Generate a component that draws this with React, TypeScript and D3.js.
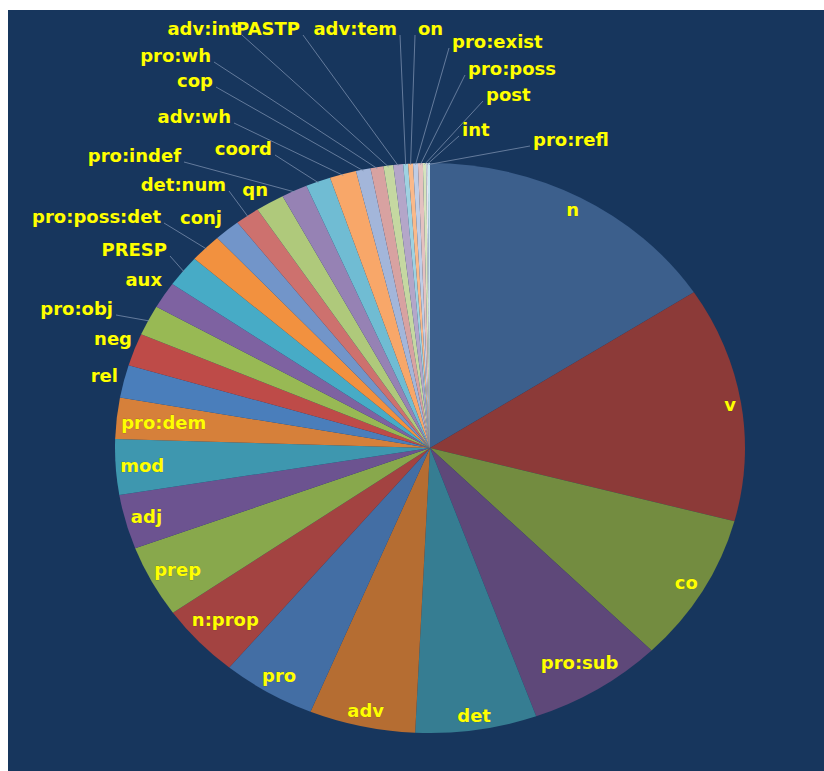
import React from "react";
import * as d3 from "d3";

// ---- data (share of each part-of-speech tag) ----
const categories = [
  "n", "v", "co", "pro:sub", "det", "adv", "pro", "n:prop", "prep", "adj", "mod", "pro:dem",
  "rel", "neg", "pro:obj", "aux", "PRESP", "pro:poss:det", "conj", "det:num", "qn", "pro:indef",
  "coord", "adv:wh", "cop", "pro:wh", "adv:int", "PASTP", "adv:tem", "on", "pro:exist",
  "pro:poss", "post", "int", "pro:refl",
];
const values = [
  56.9, 48.0, 30.4, 25.0, 22.4, 19.6, 17.3, 15.1, 14.7, 11.1, 11.3, 8.4,
  6.7, 6.6, 6.2, 5.4, 6.5, 5.9, 4.8, 4.5, 5.3, 4.8,
  4.6, 4.9, 2.7, 2.4, 1.8, 1.8, 0.9, 0.9, 0.9,
  0.9, 0.6, 0.3, 0.4,
];
const colors = [
  "#3c5f8c", "#8c3a38", "#738c40", "#5e4879", "#367d92", "#b56d32",
  "#436ea4", "#a34341", "#88a84c", "#6c5390", "#3e97af", "#d6803a",
  "#4a7ebb", "#be4b48", "#98b954", "#7e62a1", "#47abc6", "#f2913f",
  "#7295c9", "#cd716e", "#afc97b", "#9682b4", "#70bcd3", "#f8a769",
  "#a3b6da", "#d8a2a1", "#c5d8a1", "#b4a6c9", "#9fd2e1", "#fab98a",
  "#bfcde6", "#e4c1c0", "#d7e4bd", "#e6e3ee", "#c8e6ef",
];
const insideCount = 12;

// ---- layout for labels placed outside the pie (manual, as in the original) ----
type OL = { x: number; y: number; anchor: "start" | "end"; line: boolean };
const outsideLayout: Record<string, OL> = {
  rel: { x: 118, y: 376, anchor: "end", line: false },
  neg: { x: 132, y: 339, anchor: "end", line: false },
  "pro:obj": { x: 113, y: 309, anchor: "end", line: true },
  aux: { x: 162, y: 280, anchor: "end", line: false },
  PRESP: { x: 167, y: 250, anchor: "end", line: true },
  "pro:poss:det": { x: 161, y: 217, anchor: "end", line: true },
  conj: { x: 222, y: 218, anchor: "end", line: false },
  "det:num": { x: 226, y: 185, anchor: "end", line: true },
  qn: { x: 268, y: 190, anchor: "end", line: false },
  "pro:indef": { x: 181, y: 156, anchor: "end", line: true },
  coord: { x: 272, y: 149, anchor: "end", line: true },
  "adv:wh": { x: 231, y: 117, anchor: "end", line: true },
  cop: { x: 213, y: 81, anchor: "end", line: true },
  "pro:wh": { x: 211, y: 56, anchor: "end", line: true },
  "adv:int": { x: 239, y: 29, anchor: "end", line: true },
  PASTP: { x: 300, y: 29, anchor: "end", line: true },
  "adv:tem": { x: 397, y: 29, anchor: "end", line: true },
  on: { x: 418, y: 29, anchor: "start", line: true },
  "pro:exist": { x: 452, y: 42, anchor: "start", line: true },
  "pro:poss": { x: 468, y: 69, anchor: "start", line: true },
  post: { x: 486, y: 95, anchor: "start", line: true },
  int: { x: 462, y: 130, anchor: "start", line: true },
  "pro:refl": { x: 533, y: 140, anchor: "start", line: true },
};

const W = 824;
const H = 771;
const CX = 430;
const CY = 448;
const RX = 315;
const RY = 285;
const FONT = "DejaVu Sans, Verdana, sans-serif";
const FS = 18;
const LABEL_H = 17;
const PAD = 4;

function textWidth(t: string): number {
  if (typeof document === "undefined") return t.length * FS * 0.6;
  const c = document.createElement("canvas").getContext("2d");
  if (!c) return t.length * FS * 0.6;
  c.font = `bold ${FS}px ${FONT}`;
  return c.measureText(t).width;
}

export default function App() {
  const pie = d3
    .pie<number>()
    .sort(null)
    .value((d) => d)
    .startAngle(0)
    .endAngle(Math.PI * 2);
  const arcs = pie(values);
  const arc = d3.arc<d3.PieArcDatum<number>>().innerRadius(0).outerRadius(RX);

  const edge = (a: number, f = 1) => [CX + RX * f * Math.sin(a), CY - RY * f * Math.cos(a)];

  return (
    <svg
      width={W}
      height={H}
      style={{ position: "absolute", left: 0, top: 0, display: "block" }}
    >
      <rect x={8} y={10} width={W - 8} height={H - 10} fill="#17365d" />
      <g transform={`translate(${CX},${CY}) scale(1,${RY / RX})`}>
        {arcs.map((a, i) => (
          <path key={categories[i]} d={arc(a) || ""} fill={colors[i]} />
        ))}
      </g>
      {/* leader lines */}
      <g stroke="#7d92b0" strokeWidth={1} strokeOpacity={0.75} fill="none">
        {arcs.map((a, i) => {
          const L = outsideLayout[categories[i]];
          if (!L || !L.line) return null;
          const mid = (a.startAngle + a.endAngle) / 2;
          const [ex, ey] = edge(mid, 0.995);
          const ax = L.anchor === "end" ? L.x + 3 : L.x - 3;
          const ay = L.y + 6;
          return <path key={categories[i]} d={`M${ax},${ay}L${ex},${ey}`} />;
        })}
      </g>
      {/* labels */}
      <g
        fill="#ffff00"
        fontFamily={FONT}
        fontWeight="bold"
        fontSize={FS}
        stroke="#3a3a10"
        strokeWidth={0.4}
        strokeOpacity={0.5}
        paintOrder="stroke"
      >
        {arcs.map((a, i) => {
          const name = categories[i];
          if (i < insideCount) {
            const mid = (a.startAngle + a.endAngle) / 2;
            const w = textWidth(name);
            const s = Math.abs(Math.sin(mid));
            const c = Math.abs(Math.cos(mid));
            const ext = s * (w / 2) + c * (LABEL_H / 2);
            const rE = Math.hypot(RX * Math.sin(mid), RY * Math.cos(mid));
            const f = 1 - (ext + PAD) / rE;
            const [x, y] = edge(mid, f);
            return (
              <text key={name} x={x} y={y} dy="0.36em" textAnchor="middle">
                {name}
              </text>
            );
          }
          const L = outsideLayout[name];
          if (!L) return null;
          return (
            <text key={name} x={L.x} y={L.y} dy="0.36em" textAnchor={L.anchor}>
              {name}
            </text>
          );
        })}
      </g>
    </svg>
  );
}
